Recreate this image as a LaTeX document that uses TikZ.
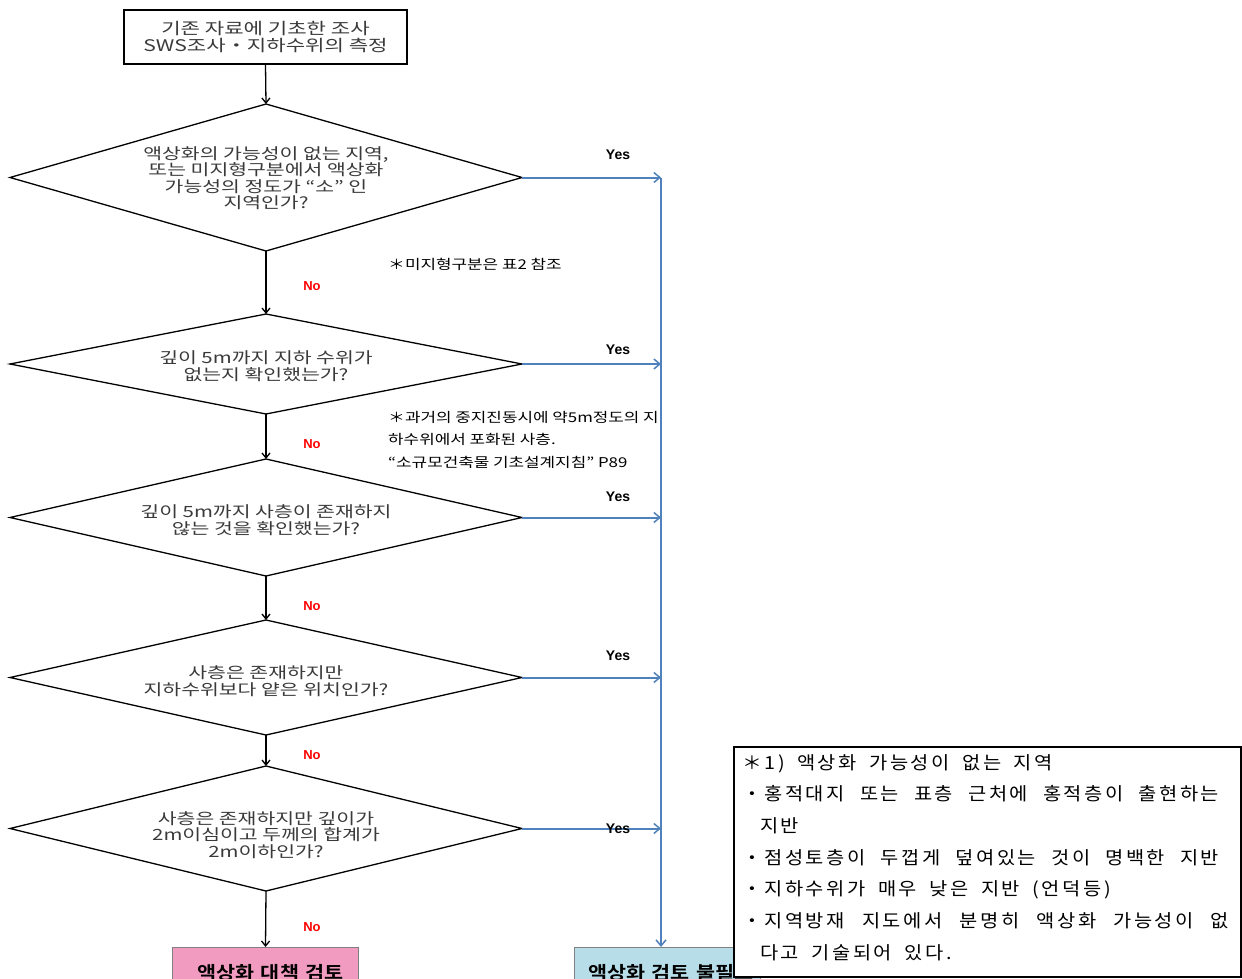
\documentclass[tikz,border=0pt]{standalone}
\usepackage{fontspec}
\usetikzlibrary{shapes.geometric,arrows.meta}
\newfontfamily\krw[FakeStretch=1.32]{Noto Sans CJK KR}
\newfontfamily\krr[FakeStretch=1.25]{Noto Sans CJK KR}
\newfontfamily\krn[FakeStretch=1.1,LetterSpace=14,WordSpace=1.8]{Noto Sans CJK KR}
\newfontfamily\krbold[FakeStretch=1.15]{Noto Sans CJK KR Bold}
\newfontfamily\ars{Liberation Sans}
\definecolor{lineblue}{HTML}{4F81BD}
\definecolor{pinkfill}{HTML}{F29BC1}
\definecolor{bluefill}{HTML}{B7DDE8}
\definecolor{txtgray}{HTML}{3A3A3A}
\tikzset{
  dia/.style={diamond, draw, line width=1.3pt, inner sep=0pt, outer sep=0pt, minimum width=512pt},
  diatext/.style={font=\krw\fontsize{15.5}{16.5}\selectfont, text=txtgray, align=center, inner sep=0pt},
  topbox/.style={draw, line width=1.2pt, minimum width=283pt, minimum height=54pt, inner sep=0pt, font=\krw\fontsize{16}{16.5}\selectfont, text=txtgray, align=center},
  arr/.style={line width=1.3pt, -{Straight Barb[length=5pt,width=8pt,line width=1.3pt]}},
  barr/.style={line width=2pt, draw=lineblue, -{Straight Barb[length=6pt,width=10pt,line width=1.5pt]}},
  yeslbl/.style={font=\ars\bfseries\fontsize{14}{14}\selectfont, inner sep=0pt},
  nolbl/.style={font=\ars\bfseries\fontsize{13}{13}\selectfont, text=red, inner sep=0pt},
  remark/.style={font=\krr\fontsize{13.5}{22.5}\selectfont, align=left, inner sep=0pt},
  endbox/.style={draw=gray, line width=1pt, minimum width=186pt, minimum height=50pt, inner sep=0pt, anchor=north, font=\krbold\fontsize{18}{18}\selectfont},
}
\begin{document}
\begin{tikzpicture}[x=1pt,y=-1pt]
\useasboundingbox (0,0) rectangle (1242,979);
\clip (0,0) rectangle (1242,979);
\fill[white] (0,0) rectangle (1242,979);

\node[topbox] (top) at (265.5,37) {기존 자료에 기초한 조사\\SWS조사・지하수위의 측정};

\node[dia, minimum height=147pt] (d1) at (266,177.5) {};
\node[diatext] (t1) at (266,178) {액상화의 가능성이 없는 지역,\\또는 미지형구분에서 액상화\\가능성의 정도가 “소” 인\\지역인가?};

\node[dia, minimum height=100pt] (d2) at (266,364) {};
\node[diatext] (t2) at (266,366) {깊이 5m까지 지하 수위가\\없는지 확인했는가?};

\node[dia, minimum height=117pt] (d3) at (266,517.5) {};
\node[diatext] (t3) at (266,520) {깊이 5m까지 사층이 존재하지\\않는 것을 확인했는가?};

\node[dia, minimum height=115pt] (d4) at (266,677.5) {};
\node[diatext] (t4) at (266,681) {사층은 존재하지만\\지하수위보다 얕은 위치인가?};

\node[dia, minimum height=125pt] (d5) at (266,828.5) {};
\node[diatext] (t5) at (266,835) {사층은 존재하지만 깊이가\\2m이심이고 두께의 합계가\\2m이하인가?};

\node[endbox, fill=pinkfill, text width=186pt, align=center] (pk) at (265.5,947) {\hspace*{10pt}액상화 대책 검토};
\node[endbox, fill=bluefill, text width=186pt, align=center] (bb) at (667,947) {\hspace*{8pt}액상화 검토 불필요};

% remarks
\node[remark, anchor=west] (r1) at (388,264) {＊미지형구분은 표2 참조};
\node[remark, anchor=north west] (r2) at (388,411) {＊과거의 중지진동시에 약5m정도의 지\\하수위에서 포화된 사층.\\“소규모건축물 기초설계지침” P89};

% black flow
\draw[arr] (top.south) -- (d1.north);
\draw[arr] (d1.south) -- (d2.north);
\draw[arr] (d2.south) -- (d3.north);
\draw[arr] (d3.south) -- (d4.north);
\draw[arr] (d4.south) -- (d5.north);
\draw[arr] (d5.south) -- (pk.north);

% blue yes bus
\coordinate (bus) at (661,177.5);
\draw[barr] (bus) -- (bus |- bb.north);
\draw[barr] (d1.east) -- (d1.east -| bus);
\draw[barr] (d2.east) -- (d2.east -| bus);
\draw[barr] (d3.east) -- (d3.east -| bus);
\draw[barr] (d4.east) -- (d4.east -| bus);
\draw[barr] (d5.east) -- (d5.east -| bus);

\node[yeslbl] (y1) at (618,155) {Yes};
\node[yeslbl] (y2) at (618,350) {Yes};
\node[yeslbl] (y3) at (618,497) {Yes};
\node[yeslbl] (y4) at (618,656) {Yes};
\node[yeslbl] (y5) at (618,829) {Yes};

\node[nolbl] (n1) at (312,286) {No};
\node[nolbl] (n2) at (312,444) {No};
\node[nolbl] (n3) at (312,606) {No};
\node[nolbl] (n4) at (312,755) {No};
\node[nolbl] (n5) at (312,927) {No};

% note box
\node[draw, line width=1.5pt, fill=white, minimum width=507pt, minimum height=230pt, anchor=north west, inner sep=0pt] (nb) at (733,746) {};
\node[anchor=north west, align=left, inner sep=0pt, font=\krn\fontsize{18}{31.7}\selectfont] (nt) at (742,754)
{＊1) 액상화 가능성이 없는 지역\\
\makebox[477pt][s]{・홍적대지 또는 표층 근처에 홍적층이 출현하는}\\
\hspace*{18pt}지반\\
\makebox[477pt][s]{・점성토층이 두껍게 덮여있는 것이 명백한 지반}\\
・지하수위가 매우 낮은 지반 (언덕등)\\
\makebox[487pt][s]{・지역방재 지도에서 분명히 액상화 가능성이 없}\\
\hspace*{18pt}다고 기술되어 있다.};
\end{tikzpicture}
\end{document}
